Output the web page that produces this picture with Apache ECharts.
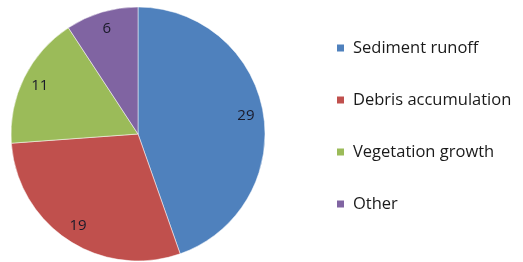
<!DOCTYPE html>
<html>
<head>
<meta charset="utf-8">
<script src="https://cdn.jsdelivr.net/npm/echarts@6/dist/echarts.min.js"></script>
<style>
  html, body { margin: 0; padding: 0; background: #fff; }
  #chart { width: 523px; height: 262px; }
</style>
</head>
<body>
<div id="chart"></div>
<script>
const categories = ['Sediment runoff', 'Debris accumulation', 'Vegetation growth', 'Other'];
const values = [29, 19, 11, 6];
const colors = ['#4F81BD', '#C0504D', '#9BBB59', '#8064A2'];

const pieData = categories.map((name, i) => ({
  name,
  value: values[i],
  itemStyle: { color: colors[i] }
}));

const chart = echarts.init(document.getElementById('chart'));

chart.setOption({
  animation: false,
  legend: {
    orient: 'vertical',
    left: 335,
    top: 38,
    padding: 0,
    itemWidth: 9,
    itemHeight: 9,
    itemGap: 32,
    icon: 'rect',
    textStyle: {
      fontFamily: 'Open Sans',
      fontSize: 16.5,
      lineHeight: 20,
      color: '#1a1a1a',
      padding: [0, 0, 0, 3]
    },
    data: categories
  },
  series: [
    {
      // the pie itself
      type: 'pie',
      center: [138, 134],
      radius: 127,
      startAngle: 90,
      clockwise: true,
      silent: true,
      label: { show: false },
      labelLine: { show: false },
      itemStyle: { borderColor: '#fff', borderWidth: 0.5 },
      data: pieData
    },
    {
      // transparent ring, only to place value labels further out
      type: 'pie',
      center: [138, 134],
      radius: [86, 127],
      startAngle: 90,
      clockwise: true,
      silent: true,
      legendHoverLink: false,
      itemStyle: { color: 'transparent' },
      label: {
        show: true,
        position: 'inside',
        formatter: '{c}',
        fontFamily: 'Open Sans',
        fontSize: 15,
        color: '#1a1a2a'
      },
      labelLine: { show: false },
      data: categories.map((name, i) => ({ name: name + ' ', value: values[i] }))
    }
  ]
});
</script>
</body>
</html>
